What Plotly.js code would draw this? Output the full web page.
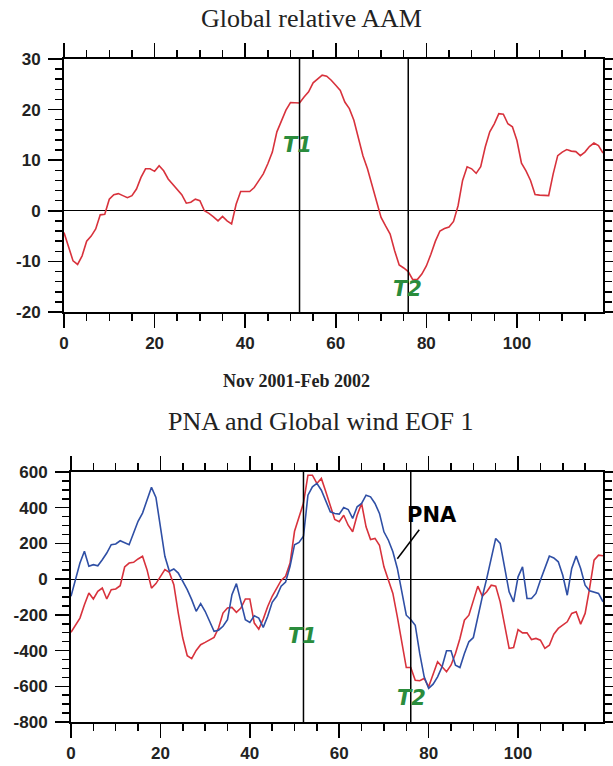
<!DOCTYPE html>
<html>
<head>
<meta charset="utf-8">
<script src="https://cdn.plot.ly/plotly-3.0.1.min.js"></script>
<style>html,body{margin:0;padding:0;background:#fff;}#chart{width:613px;height:766px;}</style>
</head>
<body>
<div id="chart"></div>
<script>
// Day index, Nov 2001 - Feb 2002
var days = Array.from({length: 120}, function (_, i) { return i; });

// Global relative AAM (top panel)
var aam = [
  -4.3, -7.3, -9.9, -10.6, -8.9, -6, -5, -3.6, -0.8, -0.7,
  2.3, 3.2, 3.4, 3, 2.6, 3, 4.3, 6.6, 8.3, 8.3,
  7.8, 8.9, 7.9, 6.3, 5.2, 4.3, 3.2, 1.5, 1.7, 2.3,
  2, 0, -0.5, -1.2, -2, -1.1, -2, -2.6, 1.3, 3.8,
  3.8, 3.8, 4.6, 6, 7.3, 9.3, 11.6, 15.6, 17.9, 19.9,
  21.4, 21.4, 21.3, 22.5, 23.5, 25.3, 26, 26.8, 26.6, 25.8,
  24.8, 23.8, 21.5, 20.2, 17.9, 14.2, 10.9, 8.3, 5, 2,
  -1.3, -3, -4.6, -7.9, -10.7, -11.3, -12, -13.6, -13.6, -12.5,
  -10.9, -8.6, -6, -4, -3.5, -3.2, -2.1, 1, 6, 8.7,
  8.3, 7.4, 8.7, 12.6, 15.6, 17.2, 19.2, 19.1, 17.2, 16.6,
  13.9, 9.4, 7.9, 6, 3.2, 3.1, 3, 3, 7.3, 10.9,
  11.6, 12.1, 11.8, 11.7, 10.9, 11.6, 12.7, 13.4, 12.9, 11.4
];

// PNA index (bottom panel, blue)
var pna = [
  -96, 0, 90, 156, 72, 81, 75, 109, 146, 193,
  197, 215, 206, 193, 258, 324, 370, 445, 514, 458,
  305, 128, 44, 57, 34, -12, -59, -115, -180, -137,
  -180, -236, -292, -286, -264, -227, -87, -25, -134, -227,
  -242, -205, -218, -270, -208, -130, -96, -40, -16, 72,
  193, 206, 240, 470, 517, 536, 498, 433, 377, 368,
  364, 401, 390, 340, 405, 424, 470, 461, 424, 368,
  265, 218, 153, 60, -80, -202, -226, -258, -416, -547,
  -612, -588, -547, -491, -401, -401, -482, -495, -416, -351,
  -327, -207, -99, 4, 125, 228, 200, 54, -71, -127,
  13, 69, -108, -108, -80, -6, 60, 129, 119, 97,
  22, -90, 60, 129, 60, -34, -65, -71, -80, -127
];

// Global wind EOF 1 (bottom panel, red)
var eof1 = [
  -298, -255, -218, -143, -78, -111, -68, -50, -111, -59,
  -55, -37, 68, 90, 94, 113, 128, 53, -50, -25,
  16, 53, 38, -31, -190, -330, -429, -445, -399, -367,
  -354, -339, -326, -274, -190, -162, -158, -186, -162, -111,
  -111, -246, -280, -224, -153, -96, -50, -7, 16, 90,
  268, 342, 426, 582, 582, 536, 564, 489, 405, 334,
  321, 358, 302, 265, 358, 424, 293, 222, 228, 190,
  69, -6, -80, -211, -342, -495, -495, -566, -569, -556,
  -603, -528, -463, -491, -519, -482, -416, -332, -230, -202,
  -118, -39, -95, -71, -34, -39, -127, -248, -388, -383,
  -282, -301, -301, -338, -332, -342, -388, -370, -308, -276,
  -258, -239, -192, -183, -252, -192, -52, 106, 134, 131
];

// Event days
var eventDays = [52, 76];
var eventLabels = ['T1', 'T2'];
var aamLabelPos = [[51.5, 13.1], [75.8, -15.4]];
var windLabelPos = [[51.8, -320], [76.1, -667]];

// Tick values
var xTicks = [0, 20, 40, 60, 80, 100];
var yTicksTop = [-20, -10, 0, 10, 20, 30];
var yTicksBot = [-800, -600, -400, -200, 0, 200, 400, 600];

var RED = '#d8323c';
var BLUE = '#2f4fa5';
var GREEN = '#2a8c3c';
var tickFont = {family: 'Liberation Sans, Arial, sans-serif', size: 17, color: '#222', weight: 'bold'};

function xAxis(dom, anchor) {
  return {
    domain: dom, anchor: anchor, range: [0, 119],
    tickmode: 'array', tickvals: xTicks, ticktext: xTicks.map(String),
    ticks: 'outside', ticklen: 14, tickwidth: 1.5, tickcolor: '#000',
    minor: {dtick: 5, tick0: 0, ticks: 'outside', ticklen: 7, tickwidth: 1.5, tickcolor: '#000'},
    showline: true, linecolor: '#000', linewidth: 2, mirror: 'ticks',
    showgrid: false, zeroline: false, tickfont: tickFont, ticklabelstandoff: 1
  };
}
function yAxis(dom, anchor, rng, vals, minorStep) {
  return {
    domain: dom, anchor: anchor, range: rng,
    tickmode: 'array', tickvals: vals, ticktext: vals.map(String),
    ticks: 'outside', ticklen: 14, tickwidth: 1.5, tickcolor: '#000',
    minor: {dtick: minorStep, tick0: 0, ticks: 'outside', ticklen: 7, tickwidth: 1.5, tickcolor: '#000'},
    showline: true, linecolor: '#000', linewidth: 2, mirror: 'ticks',
    showgrid: false, zeroline: true, zerolinecolor: '#000', zerolinewidth: 1,
    tickfont: tickFont, ticklabelstandoff: 4
  };
}

var traces = [
  {x: days, y: aam, xaxis: 'x', yaxis: 'y', mode: 'lines', line: {color: RED, width: 1.6}, name: 'AAM'},
  {x: days, y: eof1, xaxis: 'x2', yaxis: 'y2', mode: 'lines', line: {color: RED, width: 1.6}, name: 'EOF 1'},
  {x: days, y: pna, xaxis: 'x2', yaxis: 'y2', mode: 'lines', line: {color: BLUE, width: 1.6}, name: 'PNA'}
];

var shapes = [];
eventDays.forEach(function (d) {
  shapes.push({type: 'line', xref: 'x', yref: 'y domain', x0: d, x1: d, y0: 0, y1: 1, line: {color: '#000', width: 1.5}});
  shapes.push({type: 'line', xref: 'x2', yref: 'y2 domain', x0: d, x1: d, y0: 0, y1: 1, line: {color: '#000', width: 1.5}});
});
// PNA pointer line
shapes.push({type: 'line', xref: 'x2', yref: 'y2', x0: 73.0, y0: 114, x1: 77.9, y1: 277, line: {color: '#000', width: 1.5}});

var labelFont = {family: 'DejaVu Sans, sans-serif', size: 21, color: GREEN, weight: 'bold', style: 'italic'};
var annotations = [];
eventLabels.forEach(function (t, i) {
  annotations.push({xref: 'x', yref: 'y', x: aamLabelPos[i][0], y: aamLabelPos[i][1], text: '<b><i>' + t + '</i></b>', showarrow: false, xanchor: 'center', yanchor: 'middle', font: labelFont});
  annotations.push({xref: 'x2', yref: 'y2', x: windLabelPos[i][0], y: windLabelPos[i][1], text: '<b><i>' + t + '</i></b>', showarrow: false, xanchor: 'center', yanchor: 'middle', font: labelFont});
});
annotations.push({xref: 'x2', yref: 'y2', x: 80.8, y: 358, text: '<b>PNA</b>', showarrow: false, xanchor: 'center', yanchor: 'middle',
  font: {family: 'DejaVu Sans, sans-serif', size: 21, color: '#000', weight: 'bold'}});
// Titles
annotations.push({xref: 'paper', yref: 'paper', x: 311 / 613, y: 1 - 19 / 766, text: 'Global relative AAM', showarrow: false, xanchor: 'center', yanchor: 'middle',
  font: {family: 'Liberation Serif, Times New Roman, serif', size: 26, color: '#222'}});
annotations.push({xref: 'paper', yref: 'paper', x: 296 / 613, y: 1 - 381 / 766, text: '<b>Nov 2001-Feb 2002</b>', showarrow: false, xanchor: 'center', yanchor: 'middle',
  font: {family: 'Liberation Serif, Times New Roman, serif', size: 18, color: '#222', weight: 'bold'}});
annotations.push({xref: 'paper', yref: 'paper', x: 321 / 613, y: 1 - 421 / 766, text: 'PNA and Global wind EOF 1', showarrow: false, xanchor: 'center', yanchor: 'middle',
  font: {family: 'Liberation Serif, Times New Roman, serif', size: 26, color: '#222'}});

var layout = {
  width: 613, height: 766,
  margin: {l: 0, r: 0, t: 0, b: 0},
  paper_bgcolor: '#fff', plot_bgcolor: '#fff',
  showlegend: false,
  xaxis: xAxis([64 / 613, 603 / 613], 'y'),
  yaxis: yAxis([1 - 312 / 766, 1 - 59 / 766], 'x', [-20, 30], yTicksTop, 2),
  xaxis2: xAxis([71 / 613, 603 / 613], 'y2'),
  yaxis2: yAxis([1 - 722 / 766, 1 - 472 / 766], 'x2', [-800, 600], yTicksBot, 50),
  shapes: shapes,
  annotations: annotations
};

Plotly.newPlot('chart', traces, layout, {displayModeBar: false, staticPlot: true});
</script>
</body>
</html>
